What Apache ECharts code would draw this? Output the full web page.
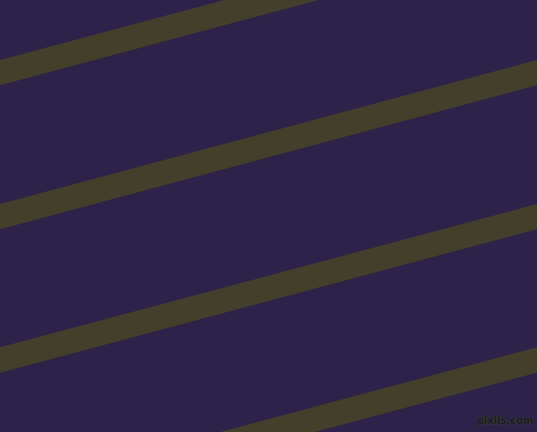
<!DOCTYPE html>
<html>
<head>
<meta charset="utf-8">
<script src="https://cdn.jsdelivr.net/npm/echarts@6/dist/echarts.min.js"></script>
<style>
  html, body { margin: 0; padding: 0; background: #2d2249; }
  #chart { width: 537px; height: 432px; }
</style>
</head>
<body>
<div id="chart"></div>
<script>
// stripe centre lines, y read at the left edge (x=0) and right edge (x=537)
const xEnds = [0, 537];
const stripe1 = [72.6, -71];
const stripe2 = [216.7, 72.6];
const stripe3 = [360, 216.7];
const stripe4 = [503.5, 360];
const stripes = [stripe1, stripe2, stripe3, stripe4];

const bgColor = '#2d2249';
const stripeColor = '#443f2a';

const chart = echarts.init(document.getElementById('chart'));

function stripeSeries(ys) {
  return {
    type: 'line',
    data: xEnds.map((x, i) => [x, ys[i]]),
    symbol: 'none',
    silent: true,
    clip: true,
    lineStyle: { color: stripeColor, width: 24.4, cap: 'square' }
  };
}

chart.setOption({
  backgroundColor: bgColor,
  animation: false,
  grid: { left: 0, right: 0, top: 0, bottom: 0 },
  xAxis: { type: 'value', min: 0, max: 537, show: false },
  yAxis: { type: 'value', min: 0, max: 432, inverse: true, show: false },
  series: stripes.map(stripeSeries),
  graphic: [{
    type: 'text',
    right: 3,
    bottom: 5,
    style: {
      text: 'pixlis.com',
      font: 'bold 10px "DejaVu Sans"',
      fill: '#1c1c1c',
      stroke: '#3a3a3a',
      lineWidth: 1
    }
  }]
});
</script>
</body>
</html>
